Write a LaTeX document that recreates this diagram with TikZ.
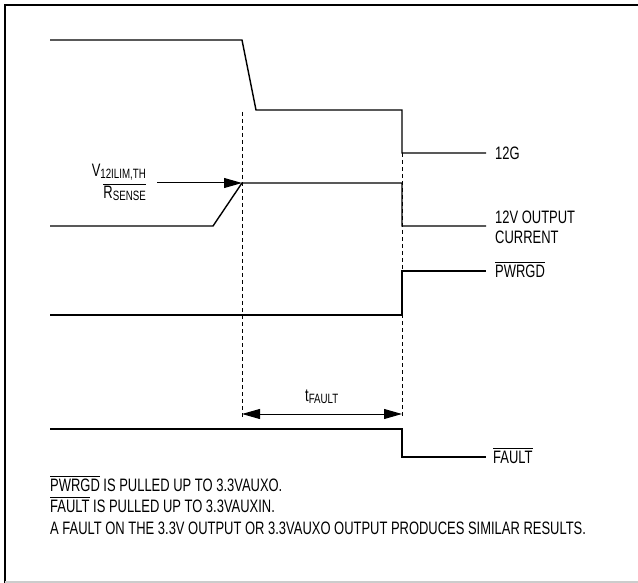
\documentclass[tikz,border=0pt]{standalone}
\usepackage{fontspec}
\setmainfont{Liberation Sans}[FakeStretch=0.72]
\usetikzlibrary{arrows.meta,positioning}
\newcommand{\negsig}[1]{\leavevmode\vbox{\hrule height 0.9pt\kern 2pt\hbox{#1}}}
\newcommand{\lowtxt}[1]{\raisebox{-2pt}{\fontsize{13.5}{13.5}\selectfont #1}}

\begin{document}
\begin{tikzpicture}[x=1pt,y=-1pt,
    >={Triangle[length=18pt,width=10pt]},
    trace/.style={line width=1.4pt,line join=miter},
    marker/.style={line width=0.8pt,dash pattern=on 4pt off 3pt},
    pointer/.style={line width=1pt},
    siglabel/.style={anchor=west,inner sep=0pt,align=left,
        font=\fontsize{18}{20}\selectfont},
    note/.style={anchor=base west,inner sep=0pt,font=\fontsize{18}{21}\selectfont}]
\useasboundingbox (0,0) rectangle (638,583);
\draw[line width=2pt] (5,583) -- (5,5) -- (638,5);
\draw[black!20,line width=1.2pt] (5,582) -- (638,582);
\node[siglabel] (g12) at (495,153) {12G};
\node[siglabel] (iout) at (495,227) {12V OUTPUT\\CURRENT};
\node[siglabel] (pg) at (495,270) {\negsig{PWRGD}};
\node[siglabel] (flt) at (493,456) {\negsig{FAULT}};
\coordinate (lim) at (242,183);
\coordinate (tA) at (242,414);
\coordinate (tB) at (402,414);
\draw[marker] (242,112) -- (tA |- 0,418);
\draw[marker] (402,153) -- (tB |- 0,418);
\draw[trace,shorten >=9pt] (50,40) -- (242,40) -- (256,110) -- (402,110) -- (402,153) -- (g12.west);
\draw[trace,shorten >=9pt] (50,226) -- (213,226) -- (lim) -- (402,183) -- (402,226) -- (iout.west |- 0,226);
\draw[trace,shorten >=9pt] (50,315) -- (402,315) -- (402,271) -- (pg.west |- 0,271);
\draw[trace,shorten >=7pt] (50,429) -- (402,429) -- (402,457) -- (flt.west |- 0,457);
\node[note,anchor=base east] (vlim) at (146,177) {V\lowtxt{12ILIM,TH}};
\node[note,anchor=base east] (rsense) at (146,199) {\negsig{R\lowtxt{SENSE}}};
\draw[pointer,->] (157,183) -- (lim);
\draw[pointer,<->] (tA) -- (tB);
\node[note] (tf) at (305,401) {t\lowtxt{FAULT}};
\node[note] (n1) at (50,491) {\negsig{PWRGD} IS PULLED UP TO 3.3VAUXO.};
\node[note] (n2) at (50,512.5) {\negsig{FAULT} IS PULLED UP TO 3.3VAUXIN.};
\node[note] (n3) at (50,534) {A FAULT ON THE 3.3V OUTPUT OR 3.3VAUXO OUTPUT PRODUCES SIMILAR RESULTS.};
\end{tikzpicture}
\end{document}
